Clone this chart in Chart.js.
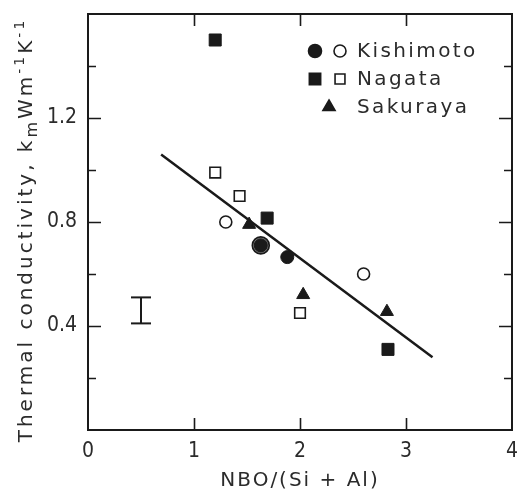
<!DOCTYPE html>
<html>
<head>
<meta charset="utf-8">
<script src="https://cdn.jsdelivr.net/npm/chart.js@4.4.1/dist/chart.umd.min.js"></script>
<style>
  html, body { margin: 0; padding: 0; background: #fff; overflow: hidden; }
  #wrap { width: 519px; height: 491px; overflow: hidden; }
</style>
</head>
<body>
<!-- el lienzo es algo más ancho: la etiqueta "4" queda cortada en el borde, como en la figura -->
<div id="wrap"><canvas id="kChart" width="524" height="491"></canvas></div>
<script>
// valores
const kishimotoFilledX = [1.63, 1.88];
const kishimotoFilledY = [0.71, 0.665];
const kishimotoOpenX = [1.30, 2.60, 1.63];
const kishimotoOpenY = [0.80, 0.60, 0.71];
const nagataFilledX = [1.20, 1.69, 2.83];
const nagataFilledY = [1.50, 0.815, 0.31];
const nagataOpenX = [1.20, 1.43, 2.00];
const nagataOpenY = [0.99, 0.90, 0.45];
const sakurayaX = [1.52, 2.03, 2.82];
const sakurayaY = [0.79, 0.52, 0.455];
const fitX = [0.69, 3.25];
const fitY = [1.06, 0.28];
const errX = [0.5, 0.5];
const errY = [0.41, 0.51];
const yLabelTicks = [0.4, 0.8, 1.2];

const INK = '#1a1a1a';
const TXT = '#2b2b2b';
const FONT = "'DejaVu Sans', sans-serif";
const TICKFONT = "'Liberation Sans Narrow', 'DejaVu Sans Condensed', sans-serif";

function pts(xs, ys) { return xs.map((x, i) => ({ x: x, y: ys[i] })); }

// trozos del título del eje y: texto, tamaño, desplazamiento
const yTitleParts = [
  ['Thermal conductivity, k', 20, 0],
  ['m', 16, 6],
  ['Wm', 20, 0],
  ['-1', 14, -7],
  ['K', 20, 0],
  ['-1', 14, -7]
];

// marco con marcas hacia dentro, títulos y leyenda
const frame = {
  id: 'frame',
  beforeDatasetsDraw(chart) {
    const { ctx, chartArea: a, scales: { x, y } } = chart;
    ctx.save();
    ctx.strokeStyle = INK;
    ctx.lineWidth = 2;
    ctx.strokeRect(a.left, a.top, a.right - a.left, a.bottom - a.top);
    ctx.lineWidth = 1.6;
    y.ticks.forEach(t => {
      const v = Math.round(t.value * 10) / 10;
      if (v <= 0 || v >= 1.6) return;
      const py = Math.round(y.getPixelForValue(v)) + 0.5;
      const len = yLabelTicks.includes(v) ? 13 : 8;
      ctx.beginPath();
      ctx.moveTo(a.left, py); ctx.lineTo(a.left + len, py);
      ctx.moveTo(a.right, py); ctx.lineTo(a.right - len, py);
      ctx.stroke();
    });
    x.ticks.forEach(t => {
      if (t.value <= 0 || t.value >= 4) return;
      const px = Math.round(x.getPixelForValue(t.value)) + 0.5;
      ctx.beginPath();
      ctx.moveTo(px, a.bottom); ctx.lineTo(px, a.bottom - 12);
      ctx.moveTo(px, a.top); ctx.lineTo(px, a.top + 12);
      ctx.stroke();
    });

    // títulos de los ejes
    ctx.fillStyle = TXT;
    ctx.letterSpacing = '2px';
    ctx.textBaseline = 'middle';
    ctx.textAlign = 'center';
    ctx.font = '20px ' + FONT;
    ctx.fillText('NBO/(Si + Al)', (a.left + a.right) / 2, 481);

    ctx.letterSpacing = '3px';
    ctx.translate(27, 230);
    ctx.rotate(-Math.PI / 2);
    ctx.textAlign = 'left';
    let total = 0;
    yTitleParts.forEach(p => { ctx.font = p[1] + 'px ' + FONT; total += ctx.measureText(p[0]).width; });
    let cx = -total / 2;
    yTitleParts.forEach(p => {
      ctx.font = p[1] + 'px ' + FONT;
      ctx.fillText(p[0], cx, p[2]);
      cx += ctx.measureText(p[0]).width;
    });
    ctx.restore();
  },
  afterDatasetsDraw(chart) {
    // leyenda
    const { ctx } = chart;
    const dp = Chart.helpers.drawPoint;
    const rows = [
      { y: 51, a: { pointStyle: 'circle', radius: 6.5 }, b: { pointStyle: 'circle', radius: 6 }, text: 'Kishimoto' },
      { y: 79, a: { pointStyle: 'rect', radius: 8 }, b: { pointStyle: 'rect', radius: 7 }, text: 'Nagata' },
      { y: 107, tri: true, text: 'Sakuraya' }
    ];
    ctx.save();
    rows.forEach(r => {
      ctx.fillStyle = INK; ctx.strokeStyle = INK; ctx.lineWidth = 1.6;
      if (r.tri) {
        dp(ctx, { pointStyle: 'triangle', radius: 7, rotation: 0, borderWidth: 1 }, 329, r.y);
      } else {
        dp(ctx, Object.assign({ rotation: 0, borderWidth: 1 }, r.a), 315, r.y);
        ctx.fillStyle = '#fff';
        dp(ctx, Object.assign({ rotation: 0, borderWidth: 1.6 }, r.b), 340, r.y);
      }
      ctx.fillStyle = TXT;
      ctx.font = '20px ' + FONT;
      ctx.letterSpacing = '2.4px';
      ctx.textBaseline = 'middle';
      ctx.fillText(r.text, 357, r.y + 1);
      ctx.letterSpacing = '0px';
    });
    ctx.restore();
  }
};

const ctx = document.getElementById('kChart').getContext('2d');
new Chart(ctx, {
  type: 'scatter',
  data: {
    datasets: [
      { label: 'Kishimoto', data: pts(kishimotoFilledX, kishimotoFilledY), pointStyle: 'circle', pointRadius: 6.5,
        backgroundColor: INK, borderColor: INK, borderWidth: 1 },
      { label: 'Kishimoto (open)', data: pts(kishimotoOpenX, kishimotoOpenY), pointStyle: 'circle', pointRadius: [6, 6, 8.5],
        backgroundColor: ['#fff', '#fff', '#777'], borderColor: INK, borderWidth: 1.6 },
      { label: 'Nagata', data: pts(nagataFilledX, nagataFilledY), pointStyle: 'rect', pointRadius: 8.5,
        backgroundColor: INK, borderColor: INK, borderWidth: 1 },
      { label: 'Nagata (open)', data: pts(nagataOpenX, nagataOpenY), pointStyle: 'rect', pointRadius: 7.5,
        backgroundColor: '#fff', borderColor: INK, borderWidth: 1.6 },
      { label: 'Sakuraya', data: pts(sakurayaX, sakurayaY), pointStyle: 'triangle', pointRadius: 7.5,
        backgroundColor: INK, borderColor: INK, borderWidth: 1 },
      { label: 'fit', data: pts(fitX, fitY), showLine: true, pointRadius: 0, borderColor: INK, borderWidth: 2.5 },
      { label: 'error', data: pts(errX, errY), showLine: true, borderColor: INK, borderWidth: 2,
        pointStyle: 'line', pointRadius: 10, pointBorderWidth: 2, pointBorderColor: INK }
    ]
  },
  options: {
    responsive: false,
    animation: false,
    layout: { padding: { top: 14, right: 0, left: 0, bottom: 0 } },
    plugins: { legend: { display: false }, tooltip: { enabled: false } },
    scales: {
      x: {
        type: 'linear', min: 0, max: 4,
        grid: { display: false, drawTicks: false },
        border: { display: false },
        ticks: { stepSize: 1, padding: 9, color: TXT, font: { family: TICKFONT, size: 21 } },
        afterFit(s) {
          s.height = 61; s.paddingLeft = 0; s.paddingRight = 0;
          if (s._margins) { s._margins.left = 0; s._margins.right = 0; }
        }
      },
      y: {
        type: 'linear', min: 0, max: 1.6,
        grid: { display: false, drawTicks: false },
        border: { display: false },
        ticks: {
          stepSize: 0.1, padding: 11, color: TXT, font: { family: TICKFONT, size: 21 },
          callback(v) {
            const r = Math.round(v * 10) / 10;
            return yLabelTicks.includes(r) ? r.toFixed(1) : '';
          }
        },
        afterFit(s) { s.width = 88; s.paddingTop = 0; s.paddingBottom = 0; }
      }
    }
  },
  plugins: [frame]
});
</script>
</body>
</html>
